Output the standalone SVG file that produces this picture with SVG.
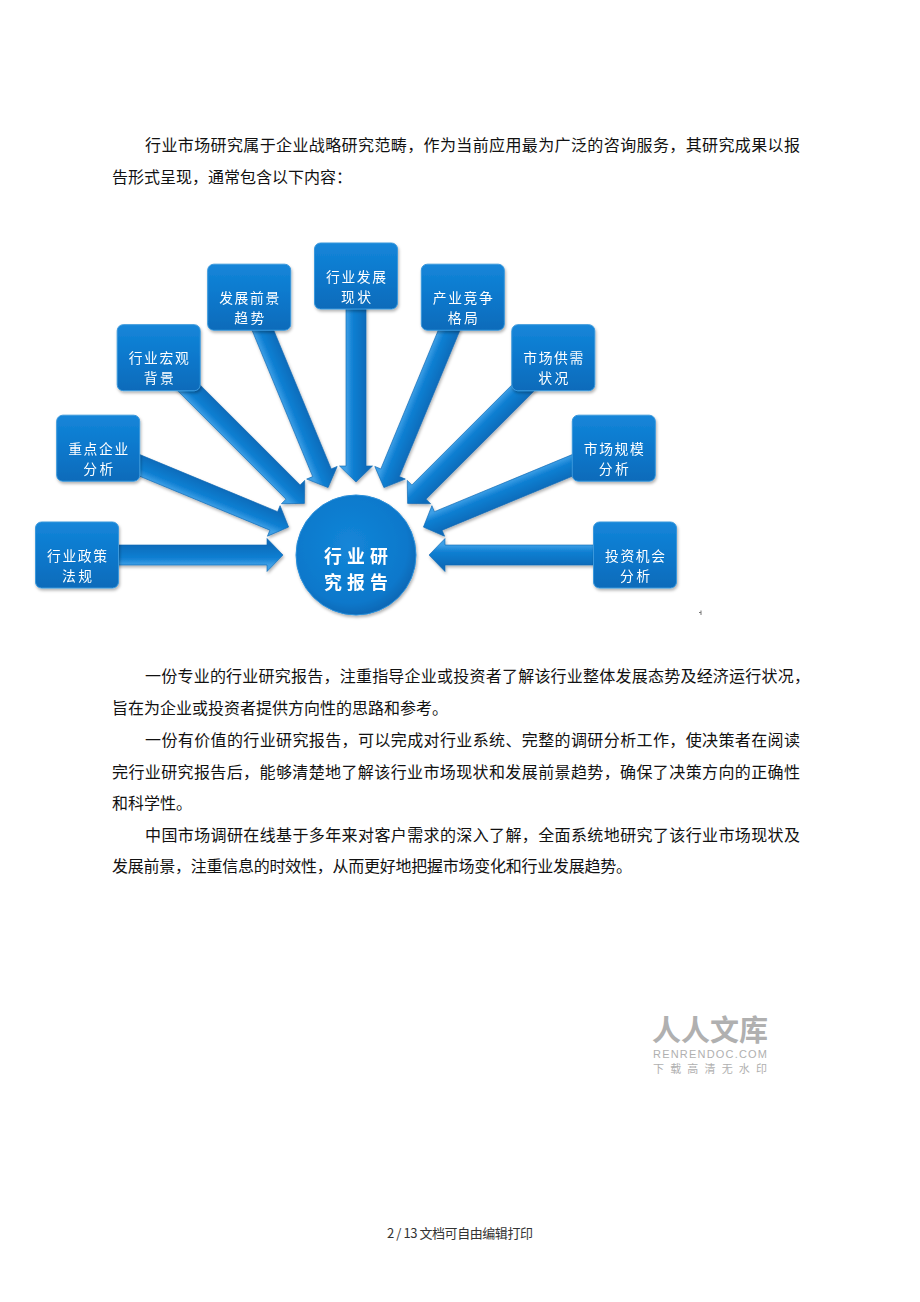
<svg xmlns="http://www.w3.org/2000/svg" width="920" height="1302" viewBox="0 0 920 1302">
<defs>
<style>
.body{font-family:"Liberation Serif","Noto Sans CJK SC",serif;font-size:16px;fill:#111}
.lbl{font-family:"Noto Sans CJK SC",sans-serif;font-size:13.8px;fill:#fff;text-anchor:middle}
.hub{font-family:"Noto Sans CJK SC",sans-serif;font-size:17.9px;font-weight:bold;fill:#fff;text-anchor:middle}
.box{fill:url(#boxGrad);stroke:#3b98dc;stroke-width:1}
.arr{fill:url(#arrGrad);stroke:#0a66b2;stroke-width:0.6}
.wm{font-family:"Noto Sans CJK SC",sans-serif;fill:#b0b0b0}
</style>
<linearGradient id="boxGrad" x1="0" y1="0" x2="0" y2="1">
<stop offset="0" stop-color="#1586d9"/>
<stop offset="0.5" stop-color="#0b78cc"/>
<stop offset="1" stop-color="#086bba"/>
</linearGradient>
<linearGradient id="arrGrad" x1="0" y1="0" x2="0" y2="1">
<stop offset="0.2" stop-color="#3d9fe6"/>
<stop offset="0.4" stop-color="#1180d3"/>
<stop offset="0.8" stop-color="#0a6cbb"/>
</linearGradient>
<radialGradient id="hubGrad" cx="0.45" cy="0.42" r="0.6">
<stop offset="0" stop-color="#1486d8"/>
<stop offset="0.8" stop-color="#0b78cb"/>
<stop offset="1" stop-color="#0966b3"/>
</radialGradient>
<filter id="sh" x="-20%" y="-20%" width="140%" height="140%">
<feDropShadow dx="1" dy="2" stdDeviation="1.5" flood-color="#000" flood-opacity="0.3"/>
</filter>
</defs>
<rect width="920" height="1302" fill="#fff"/>

<g id="intro">
<text class="body" x="145" y="151" textLength="655" lengthAdjust="spacing">行业市场研究属于企业战略研究范畴，作为当前应用最为广泛的咨询服务，其研究成果以报</text>
<text class="body" x="112" y="183">告形式呈现，通常包含以下内容：</text>
</g>

<g id="connectors" filter="url(#sh)">
<g transform="translate(356,555) rotate(180)"><polygon class="arr" points="73,0 89,-16.5 89,-10 250,-10 250,10 89,10 89,16.5"/></g>
<g transform="translate(356,555) rotate(202.5)"><polygon class="arr" points="73,0 89,-16.5 89,-10 250,-10 250,10 89,10 89,16.5"/></g>
<g transform="translate(356,555) rotate(225)"><polygon class="arr" points="73,0 89,-16.5 89,-10 250,-10 250,10 89,10 89,16.5"/></g>
<g transform="translate(356,555) rotate(247.5)"><polygon class="arr" points="73,0 89,-16.5 89,-10 250,-10 250,10 89,10 89,16.5"/></g>
<g transform="translate(356,555) rotate(270)"><polygon class="arr" points="73,0 89,-16.5 89,-10 250,-10 250,10 89,10 89,16.5"/></g>
<g transform="translate(356,555) rotate(292.5)"><polygon class="arr" points="73,0 89,-16.5 89,-10 250,-10 250,10 89,10 89,16.5"/></g>
<g transform="translate(356,555) rotate(315)"><polygon class="arr" points="73,0 89,-16.5 89,-10 250,-10 250,10 89,10 89,16.5"/></g>
<g transform="translate(356,555) rotate(337.5)"><polygon class="arr" points="73,0 89,-16.5 89,-10 250,-10 250,10 89,10 89,16.5"/></g>
<g transform="translate(356,555)"><polygon class="arr" points="73,0 89,-16.5 89,-10 250,-10 250,10 89,10 89,16.5"/></g>
</g>

<g id="hub" filter="url(#sh)">
<circle cx="356" cy="555" r="60" fill="url(#hubGrad)" stroke="#2a8ed8" stroke-width="1"/>
<text class="hub" x="356" y="563" textLength="64" lengthAdjust="spacing">行业研</text>
<text class="hub" x="356" y="589" textLength="64" lengthAdjust="spacing">究报告</text>
</g>

<g id="node-policy" filter="url(#sh)">
<rect class="box" x="35.5" y="522" width="83" height="66" rx="6"/>
<text class="lbl" x="77" y="560.7" textLength="60">行业政策</text>
<text class="lbl" x="77" y="580.7" textLength="30">法规</text>
</g>
<g id="node-enterprise" filter="url(#sh)">
<rect class="box" x="56.7" y="415.2" width="83" height="66" rx="6"/>
<text class="lbl" x="98.2" y="453.9" textLength="60">重点企业</text>
<text class="lbl" x="98.2" y="473.9" textLength="30">分析</text>
</g>
<g id="node-macro" filter="url(#sh)">
<rect class="box" x="117.2" y="324.7" width="83" height="66" rx="6"/>
<text class="lbl" x="158.7" y="363.4" textLength="60">行业宏观</text>
<text class="lbl" x="158.7" y="383.4" textLength="30">背景</text>
</g>
<g id="node-outlook" filter="url(#sh)">
<rect class="box" x="207.7" y="264.2" width="83" height="66" rx="6"/>
<text class="lbl" x="249.2" y="302.9" textLength="60">发展前景</text>
<text class="lbl" x="249.2" y="322.9" textLength="30">趋势</text>
</g>
<g id="node-status" filter="url(#sh)">
<rect class="box" x="314.5" y="243" width="83" height="66" rx="6"/>
<text class="lbl" x="356" y="281.7" textLength="60">行业发展</text>
<text class="lbl" x="356" y="301.7" textLength="30">现状</text>
</g>
<g id="node-competition" filter="url(#sh)">
<rect class="box" x="421.3" y="264.2" width="83" height="66" rx="6"/>
<text class="lbl" x="462.8" y="302.9" textLength="60">产业竞争</text>
<text class="lbl" x="462.8" y="322.9" textLength="30">格局</text>
</g>
<g id="node-supply" filter="url(#sh)">
<rect class="box" x="511.8" y="324.7" width="83" height="66" rx="6"/>
<text class="lbl" x="553.3" y="363.4" textLength="60">市场供需</text>
<text class="lbl" x="553.3" y="383.4" textLength="30">状况</text>
</g>
<g id="node-scale" filter="url(#sh)">
<rect class="box" x="572.3" y="415.2" width="83" height="66" rx="6"/>
<text class="lbl" x="613.8" y="453.9" textLength="60">市场规模</text>
<text class="lbl" x="613.8" y="473.9" textLength="30">分析</text>
</g>
<g id="node-invest" filter="url(#sh)">
<rect class="box" x="593.5" y="522" width="83" height="66" rx="6"/>
<text class="lbl" x="635" y="560.7" textLength="60">投资机会</text>
<text class="lbl" x="635" y="580.7" textLength="30">分析</text>
</g>

<path d="M701,610.5 v4.5 M699,612.5 h2" stroke="#777" stroke-width="1" fill="none"/>

<g id="paragraphs">
<text class="body" x="145" y="682" textLength="665" lengthAdjust="spacing">一份专业的行业研究报告，注重指导企业或投资者了解该行业整体发展态势及经济运行状况，</text>
<text class="body" x="112" y="714">旨在为企业或投资者提供方向性的思路和参考。</text>
<text class="body" x="145" y="746" textLength="655" lengthAdjust="spacing">一份有价值的行业研究报告，可以完成对行业系统、完整的调研分析工作，使决策者在阅读</text>
<text class="body" x="112" y="778" textLength="688" lengthAdjust="spacing">完行业研究报告后，能够清楚地了解该行业市场现状和发展前景趋势，确保了决策方向的正确性</text>
<text class="body" x="112" y="809">和科学性。</text>
<text class="body" x="145" y="841" textLength="655" lengthAdjust="spacing">中国市场调研在线基于多年来对客户需求的深入了解，全面系统地研究了该行业市场现状及</text>
<text class="body" x="112" y="872" textLength="520" lengthAdjust="spacing">发展前景，注重信息的时效性，从而更好地把握市场变化和行业发展趋势。</text>
</g>

<g id="watermark">
<text class="wm" x="652" y="1041" font-size="29" font-weight="bold" textLength="116" lengthAdjust="spacing">人人文库</text>
<text class="wm" x="653" y="1058" font-size="11" textLength="114" lengthAdjust="spacing" style="font-family:'Liberation Sans',sans-serif">RENRENDOC.COM</text>
<text class="wm" x="653" y="1073" font-size="11" textLength="114" lengthAdjust="spacing">下载高清无水印</text>
</g>

<text x="387" y="1238" font-family="Noto Sans CJK SC, sans-serif" font-size="13" fill="#333" textLength="146" lengthAdjust="spacing">2 / 13 文档可自由编辑打印</text>
</svg>
